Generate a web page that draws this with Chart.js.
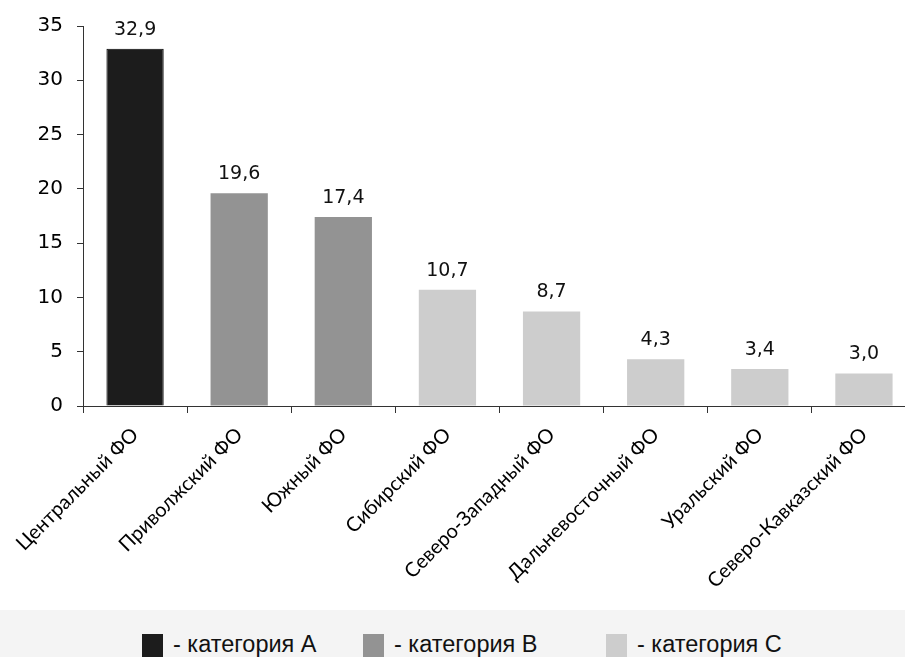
<!DOCTYPE html>
<html>
<head>
<meta charset="utf-8">
<script src="https://cdn.jsdelivr.net/npm/chart.js@4/dist/chart.umd.min.js"></script>
<style>
  html, body { margin: 0; padding: 0; background: #fff; overflow: hidden; width: 905px; height: 657px; }
  #wrap { position: relative; width: 920px; height: 610px; }
  #legend { position: absolute; left: 0; top: 610px; width: 905px; height: 47px; background: #f4f4f4; }
  .item { position: absolute; top: 24px; height: 24px; font-family: "Liberation Sans", Arial, sans-serif; font-size: 23.5px; color: #111; white-space: nowrap; }
  .item span.box { position: absolute; left: 0; top: 0; width: 21px; height: 24px; }
  .item span.txt { position: absolute; left: 31px; top: -1px; line-height: 1; }
</style>
</head>
<body>
<div id="wrap"><canvas id="chart"></canvas></div>
<div id="legend"></div>
<script>
// Data
const regions = ["Центральный ФО", "Приволжский ФО", "Южный ФО", "Сибирский ФО",
  "Северо-Западный ФО", "Дальневосточный ФО", "Уральский ФО", "Северо-Кавказский ФО"];
const shares = [32.9, 19.6, 17.4, 10.7, 8.7, 4.3, 3.4, 3.0];
const regionCategory = ["A", "B", "B", "C", "C", "C", "C", "C"];
const categoryNames = ["A", "B", "C"];
const categoryColors = { A: "#1c1c1c", B: "#939393", C: "#cdcdcd" };
const yTicks = [0, 5, 10, 15, 20, 25, 30, 35];

const fmt = (v) => v.toFixed(1).replace(".", ",");

// value labels above bars
const valueLabels = {
  id: "valueLabels",
  afterDatasetsDraw(chart) {
    const ctx = chart.ctx;
    const meta = chart.getDatasetMeta(0);
    ctx.save();
    ctx.font = "19px 'DejaVu Sans', sans-serif";
    ctx.fillStyle = "#111";
    ctx.textAlign = "center";
    ctx.textBaseline = "middle";
    meta.data.forEach((bar, i) => {
      ctx.fillText(fmt(shares[i]), bar.x, bar.y - 19);
    });
    ctx.restore();
  }
};

const ctx = document.getElementById("chart").getContext("2d");
const chart = new Chart(ctx, {
  type: "bar",
  data: {
    labels: regions,
    datasets: [{
      data: shares,
      backgroundColor: regionCategory.map((c) => categoryColors[c]),
      borderColor: regionCategory.map((c) => c === "A" ? "#000" : categoryColors[c]),
      borderWidth: regionCategory.map((c) => c === "A" ? 1 : 0),
      barPercentage: 0.55,
      categoryPercentage: 1
    }]
  },
  options: {
    responsive: true,
    maintainAspectRatio: false,
    animation: false,
    layout: { padding: { top: 26, right: 4, left: 0, bottom: 0 } },
    plugins: { legend: { display: false }, tooltip: { enabled: false } },
    scales: {
      x: {
        grid: { offset: true, drawOnChartArea: false, drawTicks: true, tickLength: 7, color: "#333" },
        border: { color: "#333", width: 1 },
        ticks: {
          minRotation: 45, maxRotation: 45, autoSkip: false, padding: 10,
          color: "#000", font: { family: "Lato, 'Open Sans', sans-serif", size: 20 }
        },
        afterFit(scale) { scale.height = 204; }
      },
      y: {
        min: 0, max: 35,
        afterBuildTicks(scale) { scale.ticks = yTicks.map((v) => ({ value: v })); },
        grid: { drawOnChartArea: false, drawTicks: true, tickLength: 6, color: "#333" },
        border: { color: "#333", width: 1 },
        ticks: {
          padding: 14, color: "#000",
          font: { family: "'DejaVu Sans', sans-serif", size: 20 }
        },
        afterFit(scale) { scale.width = 83; }
      }
    }
  },
  plugins: [valueLabels]
});

// Legend
const legendLeft = [142, 363, 606];
const legend = document.getElementById("legend");
categoryNames.forEach((name, i) => {
  const item = document.createElement("div");
  item.className = "item";
  item.style.left = legendLeft[i] + "px";
  item.innerHTML = `<span class="box" style="background:${categoryColors[name]}"></span><span class="txt">- категория ${name}</span>`;
  legend.appendChild(item);
});
</script>
</body>
</html>
